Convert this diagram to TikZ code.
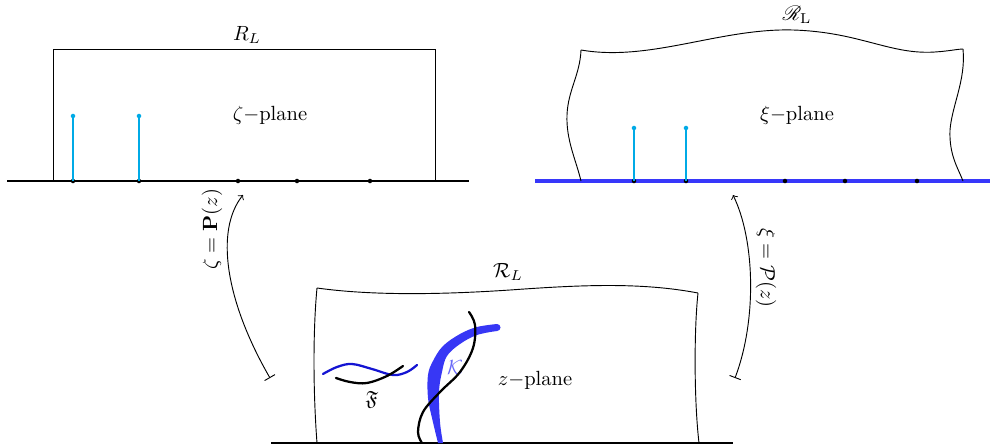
\documentclass[tikz,border=0pt]{standalone}
\usepackage{amsmath,amssymb,mathrsfs}
\definecolor{axblue}{RGB}{55,55,250}
\definecolor{fblue}{RGB}{20,20,210}
\definecolor{kblue}{RGB}{55,55,245}
\definecolor{cyanc}{RGB}{0,170,230}
\begin{document}
\begin{tikzpicture}[x=0.487pt,y=-0.487pt,
  axis/.style={line width=1pt},
  frame/.style={line width=0.45pt},
  stem/.style={cyanc, line width=0.6pt},
  axdot/.style={circle, fill=black, inner sep=0pt, minimum size=2.2pt},
  cdot/.style={circle, fill=cyanc, inner sep=0pt, minimum size=2.2pt},
  curve/.style={line width=1.1pt, line cap=round},
  map/.style={|->, line width=0.45pt}]
\useasboundingbox (0,0) rectangle (990,446);

% ---------- left panel ----------
\draw[axis] (7,181) -- (469,181);
\draw[frame] (53,181) -- (53,49) -- (435,49) -- (435,181);
\node (RL) at (247,35) {$R_L$};
\node (zetaplane) at (270,115) {$\zeta-$plane};
\node[cdot] (l1t) at (73,116) {};
\node[cdot] (l2t) at (139,116) {};
\node[axdot] (l1) at (73,181) {};
\node[axdot] (l2) at (139,181) {};
\node[axdot] (l3) at (238,181) {};
\node[axdot] (l4) at (297,181) {};
\node[axdot] (l5) at (370,181) {};
\draw[stem] (l1.center) -- (l1t.center);
\draw[stem] (l2.center) -- (l2t.center);

% ---------- right panel ----------
\draw[axblue, line width=1.5pt] (535,181) -- (990,181);
\draw[frame] (581,181) .. controls (576,160) and (566,140) .. (567,115)
             .. controls (568,90) and (580,75) .. (581,50);
\draw[frame] (581,50) .. controls (650,62) and (720,28) .. (793,30)
             .. controls (860,32) and (890,55) .. (935,52)
             .. controls (950,51) and (958,49) .. (963,49);
\draw[frame] (963,49) .. controls (966,80) and (952,105) .. (950,130)
             .. controls (949,155) and (958,168) .. (963,181);
\node (scrRL) at (797,15) {$\mathscr{R}_{\mathrm{L}}$};
\node (xiplane) at (797,115) {$\xi-$plane};
\node[cdot] (r1t) at (634,128) {};
\node[cdot] (r2t) at (686,128) {};
\node[axdot] (r1) at (634,181) {};
\node[axdot] (r2) at (686,181) {};
\node[axdot] (r3) at (785,181) {};
\node[axdot] (r4) at (845,181) {};
\node[axdot] (r5) at (917,181) {};
\draw[stem] (r1.center) -- (r1t.center);
\draw[stem] (r2.center) -- (r2t.center);

% ---------- bottom panel ----------
\draw[axis] (271,443) -- (733,443);
\draw[frame] (317,443) .. controls (313,390) and (313,330) .. (317,288);
\draw[frame] (317,288) .. controls (360,294) and (420,296) .. (510,290)
             .. controls (580,285) and (640,282) .. (698,293);
\draw[frame] (698,293) .. controls (694,330) and (694,400) .. (699,443);
\node (calRL) at (508,272) {$\mathcal{R}_L$};
\node (zplane) at (535,380) {$z-$plane};

% K band
\fill[kblue] plot[smooth, tension=0.6] coordinates {(438,443) (432,418) (428,398) (428,375) (433,361) (443,346) (460,334) (477,327) (497,324)}
  -- plot[smooth, tension=0.6] coordinates {(497,331) (477,335) (460,344) (447,356) (442,372) (439,392) (440,422) (443,443)} -- cycle;
\fill[kblue] (497,327.5) circle[radius=3.5];
\node[text=kblue!75] (K) at (455,367) {$\mathcal{K}$};
% black S curve
\draw[curve] plot[smooth, tension=0.6] coordinates {(469,312) (475,325) (473,348) (460,372) (440,392) (423,412) (418,432) (422,443)};

% F curves
\draw[curve, fblue] plot[smooth, tension=0.6] coordinates {(323,374) (337,367) (352,364) (372,369) (393,375) (407,372) (417,365)};
\draw[curve] plot[smooth, tension=0.6] coordinates {(336,378) (350,382) (367,383) (387,376) (403,366)};
\node (F) at (372,400) {$\mathfrak{F}$};

% ---------- maps ----------
\coordinate (pa) at (270,378);
\coordinate (pb) at (243,195);
\draw[map] (pa) .. controls (225,300) and (215,230) .. (pb);
\node[rotate=90] (Plab) at (212,229) {$\zeta=\mathbf{P}(z)$};

\coordinate (qa) at (735,378);
\coordinate (qb) at (733,195);
\draw[map] (qa) .. controls (757,320) and (755,240) .. (qb);
\node[rotate=-90] (Qlab) at (766,268) {$\xi=\mathcal{P}(z)$};
\end{tikzpicture}
\end{document}
